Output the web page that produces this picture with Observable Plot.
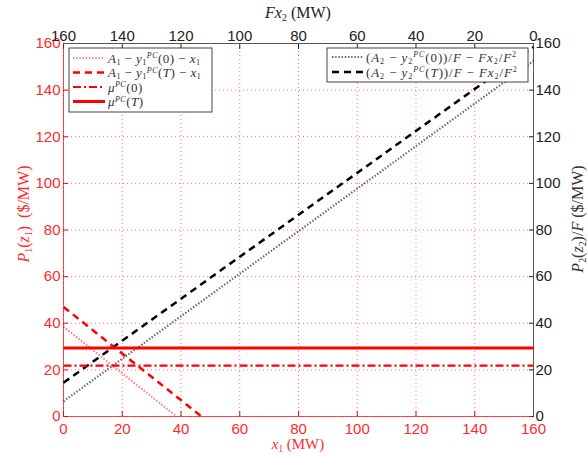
<!DOCTYPE html>
<html><head><meta charset="utf-8">
<script src="https://cdn.jsdelivr.net/npm/d3@7"></script>
<script src="https://cdn.jsdelivr.net/npm/@observablehq/plot@0.6"></script>
<style>body{margin:0;background:#fff} svg{display:block}</style>
</head><body><div id="chart"></div>
<script>
// ---- data ----
const tickValues = [0, 20, 40, 60, 80, 100, 120, 140, 160];
const topTickLabels = [160, 140, 120, 100, 80, 60, 40, 20, 0];   // Fx2 (MW), reversed
const redDottedX = [0, 38.5], redDottedY = [38.5, 0];            // A1 - y1PC(0) - x1
const redDashedX = [0, 47], redDashedY = [47, 0];                // A1 - y1PC(T) - x1
const muX = [0, 160];
const mu0Y = [21.8, 21.8];                                        // muPC(0)
const muTY = [29.4, 29.4];                                        // muPC(T)
const blackDottedX = [0, 160], blackDottedY = [6.5, 152.5];      // (A2 - y2PC(0))/F - Fx2/F^2
const blackDashedX = [0, 160], blackDashedY = [14.5, 158.5];     // (A2 - y2PC(T))/F - Fx2/F^2

const pts = (xs, ys) => xs.map((x, i) => ({x, y: ys[i]}));
const RED = "#ff0000", RTXT = "#ff2a2a", DARK = "#222", SPINE = "#555";
const DOT = "1.4,1.8", DASH = "7,5", DASHDOT = "8,3,2,3";

const chart = Plot.plot({
  width: 588, height: 456,
  marginLeft: 63, marginRight: 55, marginTop: 43, marginBottom: 40,
  style: {fontFamily: "'Liberation Sans', Arial, sans-serif", fontSize: "15px", background: "#fff"},
  x: {domain: [0, 160]},
  y: {domain: [0, 160]},
  marks: [
    Plot.gridX(tickValues, {stroke: RED, strokeOpacity: 0.55, strokeDasharray: "1,3"}),
    Plot.gridY(tickValues, {stroke: RED, strokeOpacity: 0.55, strokeDasharray: "1,3"}),
    // axes
    Plot.axisY(tickValues, {anchor: "left", tickSize: -5, tickPadding: 8, fontSize: 15, color: RTXT, stroke: RED, label: null}),
    Plot.axisX(tickValues, {anchor: "bottom", tickSize: -5, tickPadding: 12, fontSize: 15, color: RTXT, stroke: RED, label: null}),
    Plot.axisY(tickValues, {anchor: "right", tickSize: -5, tickPadding: 7, fontSize: 15, color: DARK, stroke: DARK, label: null}),
    Plot.axisX(tickValues, {anchor: "top", tickSize: -5, tickPadding: 8, fontSize: 15, color: DARK, stroke: DARK, label: null,
      tickFormat: (d) => topTickLabels[tickValues.indexOf(d)]}),
    // spines
    Plot.ruleX([160], {stroke: SPINE}),
    Plot.ruleY([160], {stroke: SPINE}),
    Plot.ruleX([0], {stroke: RED, strokeOpacity: 0.7}),
    Plot.ruleY([0], {stroke: RED, strokeOpacity: 0.7}),
    // data lines
    Plot.line(pts(blackDottedX, blackDottedY), {x: "x", y: "y", stroke: "#333", strokeOpacity: 0.75, strokeWidth: 2.2, strokeDasharray: DOT, strokeLinecap: "butt"}),
    Plot.line(pts(blackDashedX, blackDashedY), {x: "x", y: "y", stroke: "#000", strokeWidth: 2.5, strokeDasharray: DASH, strokeLinecap: "butt"}),
    Plot.line(pts(redDottedX, redDottedY), {x: "x", y: "y", stroke: RED, strokeOpacity: 0.5, strokeWidth: 2.2, strokeDasharray: DOT, strokeLinecap: "butt"}),
    Plot.line(pts(redDashedX, redDashedY), {x: "x", y: "y", stroke: RED, strokeWidth: 2.5, strokeDasharray: DASH, strokeLinecap: "butt"}),
    Plot.line(pts(muX, mu0Y), {x: "x", y: "y", stroke: RED, strokeWidth: 2.2, strokeDasharray: DASHDOT, strokeLinecap: "butt"}),
    Plot.line(pts(muX, muTY), {x: "x", y: "y", stroke: RED, strokeWidth: 3, strokeLinecap: "butt"})
  ]
});
document.getElementById("chart").appendChild(chart);

// ---- decorations: titles and legends ----
const svg = d3.select(chart);
const SERIF = "'Liberation Serif', 'DejaVu Serif', serif";
function addMath(g, x, y, parts, size, color, anchor, spacing) {
  const text = g.append("text").attr("x", x).attr("y", y)
    .attr("font-family", SERIF).attr("font-size", size).attr("fill", color)
    .attr("text-anchor", anchor || "start").style("white-space", "pre");
  if (spacing) text.attr("letter-spacing", spacing);
  let cur = 0;
  for (const p of parts) {
    const target = p.s === "sub" ? size * 0.18 : p.s === "sup" ? -size * 0.32 : 0;
    const ts = text.append("tspan").text(p.t).attr("dy", target - cur);
    cur = target;
    if (p.s) ts.attr("font-size", size * 0.62);
    if (p.i) ts.attr("font-style", "italic");
  }
  return text;
}
const deco = svg.append("g");
// axis titles
addMath(deco, 298, 449, [{t: "x", i: 1}, {t: "1", s: "sub"}, {t: " (MW)"}], 15, RTXT, "middle");
addMath(deco, 298, 18, [{t: "Fx", i: 1}, {t: "2", s: "sub"}, {t: " (MW)"}], 16, DARK, "middle");
const lt = deco.append("g").attr("transform", "translate(29,214) rotate(-90)");
addMath(lt, 0, 0, [{t: "P", i: 1}, {t: "1", s: "sub"}, {t: "("}, {t: "z", i: 1}, {t: "1", s: "sub"}, {t: ")  ($/MW)"}], 16, RTXT, "middle");
const rt = deco.append("g").attr("transform", "translate(583,219) rotate(-90)");
addMath(rt, 0, 0, [{t: "P", i: 1}, {t: "2", s: "sub"}, {t: "("}, {t: "z", i: 1}, {t: "2", s: "sub"}, {t: ")/"}, {t: "F", i: 1}, {t: " ($/MW)"}], 16, "#333", "middle");

// left legend
const L = deco.append("g");
L.append("rect").attr("x", 69).attr("y", 48).attr("width", 143).attr("height", 64).attr("fill", "#fff").attr("stroke", "#444");
const leftItems = [
  {dash: DOT, w: 2.2, op: 0.5, parts: [{t: "A", i: 1}, {t: "1", s: "sub"}, {t: " − "}, {t: "y", i: 1}, {t: "1", s: "sub"}, {t: "PC", s: "sup", i: 1}, {t: "(0) − "}, {t: "x", i: 1}, {t: "1", s: "sub"}]},
  {dash: DASH, w: 2.5, op: 1, parts: [{t: "A", i: 1}, {t: "1", s: "sub"}, {t: " − "}, {t: "y", i: 1}, {t: "1", s: "sub"}, {t: "PC", s: "sup", i: 1}, {t: "("}, {t: "T", i: 1}, {t: ") − "}, {t: "x", i: 1}, {t: "1", s: "sub"}]},
  {dash: DASHDOT, w: 2.2, op: 1, parts: [{t: "μ", i: 1}, {t: "PC", s: "sup", i: 1}, {t: "(0)"}]},
  {dash: null, w: 3, op: 1, parts: [{t: "μ", i: 1}, {t: "PC", s: "sup", i: 1}, {t: "("}, {t: "T", i: 1}, {t: ")"}]}
];
leftItems.forEach((it, k) => {
  const yy = 58 + k * 14.5;
  const ln = L.append("line").attr("x1", 73).attr("x2", 105).attr("y1", yy).attr("y2", yy)
    .attr("stroke", RED).attr("stroke-width", it.w).attr("stroke-opacity", it.op);
  if (it.dash) ln.attr("stroke-dasharray", it.dash);
  addMath(L, 108, yy + 4.5, it.parts, 13, "#333", "start", 0.45);
});

// right legend
const R = deco.append("g");
R.append("rect").attr("x", 327).attr("y", 48).attr("width", 201).attr("height", 34).attr("fill", "#fff").attr("stroke", "#444");
const rightItems = [
  {dash: DOT, w: 2.2, op: 0.75, color: "#333", p0: "0"},
  {dash: DASH, w: 2.5, op: 1, color: "#000", p0: "T"}
];
rightItems.forEach((it, k) => {
  const yy = 57 + k * 15;
  R.append("line").attr("x1", 332).attr("x2", 363).attr("y1", yy).attr("y2", yy)
    .attr("stroke", it.color).attr("stroke-width", it.w).attr("stroke-opacity", it.op).attr("stroke-dasharray", it.dash);
  const mid = it.p0 === "T" ? [{t: "("}, {t: "T", i: 1}, {t: "))/"}] : [{t: "(0))/"}];
  addMath(R, 366, yy + 4.5, [{t: "("}, {t: "A", i: 1}, {t: "2", s: "sub"}, {t: " − "}, {t: "y", i: 1}, {t: "2", s: "sub"}, {t: "PC", s: "sup", i: 1},
    ...mid, {t: "F", i: 1}, {t: " − "}, {t: "Fx", i: 1}, {t: "2", s: "sub"}, {t: "/"}, {t: "F", i: 1}, {t: "2", s: "sup"}], 13, "#333", "start", 0.9);
});
</script>
</body></html>
